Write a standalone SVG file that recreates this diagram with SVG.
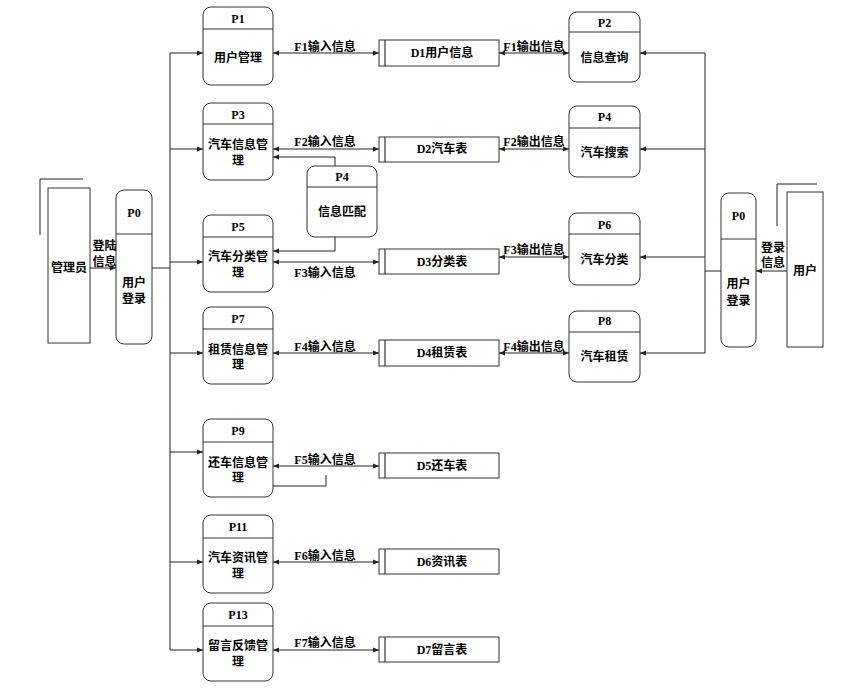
<svg xmlns="http://www.w3.org/2000/svg" width="847" height="694" viewBox="0 0 847 694">
<defs>
<marker id="ah" viewBox="0 0 10 10" refX="10" refY="5" markerWidth="6" markerHeight="6" markerUnits="userSpaceOnUse" orient="auto-start-reverse">
<path d="M0,1 L10,5 L0,9 z" fill="#222"/>
</marker>
<style>
.n{fill:#fff;stroke:#333;stroke-width:1}
.dv{stroke:#333;stroke-width:1.2}
.t{font-family:"Liberation Serif","Noto Sans CJK SC",serif;font-size:12px;font-weight:bold;fill:#000;text-anchor:middle}
.c{fill:none;stroke:#222;stroke-width:1}
.a{marker-end:url(#ah)}
.b{marker-start:url(#ah);marker-end:url(#ah)}
</style>
</defs>
<rect width="847" height="694" fill="#fff"/>

<g id="admin">
<path class="c" d="M40,235 V179 H83"/>
<rect class="n" x="48" y="188" width="42" height="155"/>
<text class="t" x="69" y="272">管理员</text>
</g>
<g id="user">
<path class="c" d="M777,226 V184 H817"/>
<rect class="n" x="787" y="192" width="36" height="155"/>
<text class="t" x="805" y="275">用户</text>
</g>

<g id="P0L">
<rect class="n" x="116" y="190" width="36" height="154" rx="8"/>
<line class="dv" x1="116" y1="234" x2="152" y2="234"/>
<text class="t" x="134" y="217">P0</text>
<text class="t" x="134" y="287">用户</text>
<text class="t" x="134" y="303">登录</text>
</g>
<g id="P0R">
<rect class="n" x="721" y="193" width="35" height="154" rx="8"/>
<line class="dv" x1="721" y1="239" x2="756" y2="239"/>
<text class="t" x="738.500" y="220">P0</text>
<text class="t" x="738.500" y="288">用户</text>
<text class="t" x="738.500" y="305">登录</text>
</g>

<g id="P1">
<rect class="n" x="203" y="7" width="70" height="78" rx="8"/>
<line class="dv" x1="203" y1="29" x2="273" y2="29"/>
<text class="t" x="238" y="23">P1</text>
<text class="t" x="238" y="62">用户管理</text>
</g>
<g id="P3">
<rect class="n" x="203" y="103" width="70" height="77" rx="8"/>
<line class="dv" x1="203" y1="124" x2="273" y2="124"/>
<text class="t" x="238" y="119">P3</text>
<text class="t" x="238" y="149">汽车信息管</text>
<text class="t" x="238" y="165">理</text>
</g>
<g id="P5">
<rect class="n" x="203" y="215" width="70" height="77" rx="8"/>
<line class="dv" x1="203" y1="237" x2="273" y2="237"/>
<text class="t" x="238" y="231">P5</text>
<text class="t" x="238" y="261">汽车分类管</text>
<text class="t" x="238" y="277">理</text>
</g>
<g id="P7">
<rect class="n" x="203" y="307" width="70" height="77" rx="8"/>
<line class="dv" x1="203" y1="329" x2="273" y2="329"/>
<text class="t" x="238" y="323">P7</text>
<text class="t" x="238" y="354">租赁信息管</text>
<text class="t" x="238" y="369">理</text>
</g>
<g id="P9">
<rect class="n" x="203" y="419" width="70" height="78" rx="8"/>
<line class="dv" x1="203" y1="442" x2="273" y2="442"/>
<text class="t" x="238" y="435">P9</text>
<text class="t" x="238" y="467">还车信息管</text>
<text class="t" x="238" y="482">理</text>
</g>
<g id="P11">
<rect class="n" x="203" y="515" width="70" height="78" rx="8"/>
<line class="dv" x1="203" y1="538" x2="273" y2="538"/>
<text class="t" x="238" y="531">P11</text>
<text class="t" x="238" y="562">汽车资讯管</text>
<text class="t" x="238" y="578">理</text>
</g>
<g id="P13">
<rect class="n" x="203" y="603" width="70" height="78" rx="8"/>
<line class="dv" x1="203" y1="626" x2="273" y2="626"/>
<text class="t" x="238" y="619">P13</text>
<text class="t" x="238" y="650">留言反馈管</text>
<text class="t" x="238" y="666">理</text>
</g>
<g id="P4M">
<rect class="n" x="307" y="166" width="70" height="71" rx="8"/>
<line class="dv" x1="307" y1="187" x2="377" y2="187"/>
<text class="t" x="342" y="181">P4</text>
<text class="t" x="342" y="216">信息匹配</text>
</g>

<g id="P2">
<rect class="n" x="569" y="12" width="71" height="70" rx="8"/>
<line class="dv" x1="569" y1="32" x2="640" y2="32"/>
<text class="t" x="604.500" y="27">P2</text>
<text class="t" x="604.500" y="62">信息查询</text>
</g>
<g id="P4R">
<rect class="n" x="569" y="106" width="71" height="71" rx="8"/>
<line class="dv" x1="569" y1="128" x2="640" y2="128"/>
<text class="t" x="604.500" y="121">P4</text>
<text class="t" x="604.500" y="157">汽车搜索</text>
</g>
<g id="P6">
<rect class="n" x="569" y="213" width="71" height="72" rx="8"/>
<line class="dv" x1="569" y1="234" x2="640" y2="234"/>
<text class="t" x="604.500" y="229">P6</text>
<text class="t" x="604.500" y="264">汽车分类</text>
</g>
<g id="P8">
<rect class="n" x="569" y="311" width="71" height="71" rx="8"/>
<line class="dv" x1="569" y1="332" x2="640" y2="332"/>
<text class="t" x="604.500" y="325">P8</text>
<text class="t" x="604.500" y="361">汽车租赁</text>
</g>

<g id="D1"><rect class="n" x="379" y="40" width="120" height="26"/><line class="dv" x1="385" y1="40" x2="385" y2="66"/><text class="t" x="442" y="57">D1用户信息</text></g>
<g id="D2"><rect class="n" x="379" y="137" width="120" height="25"/><line class="dv" x1="385" y1="137" x2="385" y2="162"/><text class="t" x="442" y="153">D2汽车表</text></g>
<g id="D3"><rect class="n" x="379" y="249" width="120" height="25"/><line class="dv" x1="385" y1="249" x2="385" y2="274"/><text class="t" x="442" y="266">D3分类表</text></g>
<g id="D4"><rect class="n" x="379" y="340" width="120" height="26"/><line class="dv" x1="385" y1="340" x2="385" y2="366"/><text class="t" x="442" y="357">D4租赁表</text></g>
<g id="D5"><rect class="n" x="379" y="453" width="120" height="25"/><line class="dv" x1="385" y1="453" x2="385" y2="478"/><text class="t" x="442" y="470">D5还车表</text></g>
<g id="D6"><rect class="n" x="379" y="549" width="120" height="25"/><line class="dv" x1="385" y1="549" x2="385" y2="574"/><text class="t" x="442" y="566">D6资讯表</text></g>
<g id="D7"><rect class="n" x="379" y="637" width="120" height="25"/><line class="dv" x1="385" y1="637" x2="385" y2="662"/><text class="t" x="442" y="654">D7留言表</text></g>

<g id="connectors">
<line class="c a" x1="90" y1="268" x2="116" y2="268"/>
<line class="c a" x1="787" y1="271" x2="756" y2="271"/>
<line class="c" x1="152" y1="268" x2="170" y2="268"/>
<line class="c" x1="170" y1="53" x2="170" y2="650"/>
<line class="c a" x1="170" y1="53" x2="203" y2="53"/>
<line class="c a" x1="170" y1="149" x2="203" y2="149"/>
<line class="c a" x1="170" y1="262" x2="203" y2="262"/>
<line class="c a" x1="170" y1="353" x2="203" y2="353"/>
<line class="c a" x1="170" y1="452" x2="203" y2="452"/>
<line class="c a" x1="170" y1="562" x2="203" y2="562"/>
<line class="c a" x1="170" y1="650" x2="203" y2="650"/>

<line class="c" x1="721" y1="271" x2="705" y2="271"/>
<line class="c" x1="705" y1="53" x2="705" y2="353"/>
<line class="c a" x1="705" y1="53" x2="640" y2="53"/>
<line class="c a" x1="705" y1="149" x2="640" y2="149"/>
<line class="c a" x1="705" y1="257" x2="640" y2="257"/>
<line class="c a" x1="705" y1="353" x2="640" y2="353"/>

<line class="c b" x1="273" y1="53" x2="379" y2="53"/>
<line class="c b" x1="273" y1="149" x2="379" y2="149"/>
<line class="c b" x1="273" y1="262" x2="379" y2="262"/>
<line class="c b" x1="273" y1="353" x2="379" y2="353"/>
<line class="c b" x1="273" y1="466" x2="379" y2="466"/>
<line class="c b" x1="273" y1="562" x2="379" y2="562"/>
<line class="c b" x1="273" y1="650" x2="379" y2="650"/>

<line class="c b" x1="499" y1="53" x2="569" y2="53"/>
<line class="c b" x1="499" y1="149" x2="569" y2="149"/>
<line class="c b" x1="499" y1="257" x2="569" y2="257"/>
<line class="c b" x1="499" y1="353" x2="569" y2="353"/>

<polyline class="c a" points="335,166 335,157 273,157"/>
<polyline class="c a" points="335,237 335,251 273,251"/>
<polyline class="c" points="273,486 326,486 326,475"/>
</g>

<g id="labels">
<text class="t" x="104.500" y="250">登陆</text>
<text class="t" x="104.500" y="266">信息</text>
<text class="t" x="773" y="252">登录</text>
<text class="t" x="773" y="267">信息</text>
<text class="t" x="325" y="51">F1输入信息</text>
<text class="t" x="325" y="146">F2输入信息</text>
<text class="t" x="325" y="277">F3输入信息</text>
<text class="t" x="325" y="351">F4输入信息</text>
<text class="t" x="325" y="464">F5输入信息</text>
<text class="t" x="325" y="560">F6输入信息</text>
<text class="t" x="325" y="647">F7输入信息</text>
<text class="t" x="534" y="51">F1输出信息</text>
<text class="t" x="534" y="146">F2输出信息</text>
<text class="t" x="534" y="254">F3输出信息</text>
<text class="t" x="534" y="351">F4输出信息</text>
</g>
</svg>
